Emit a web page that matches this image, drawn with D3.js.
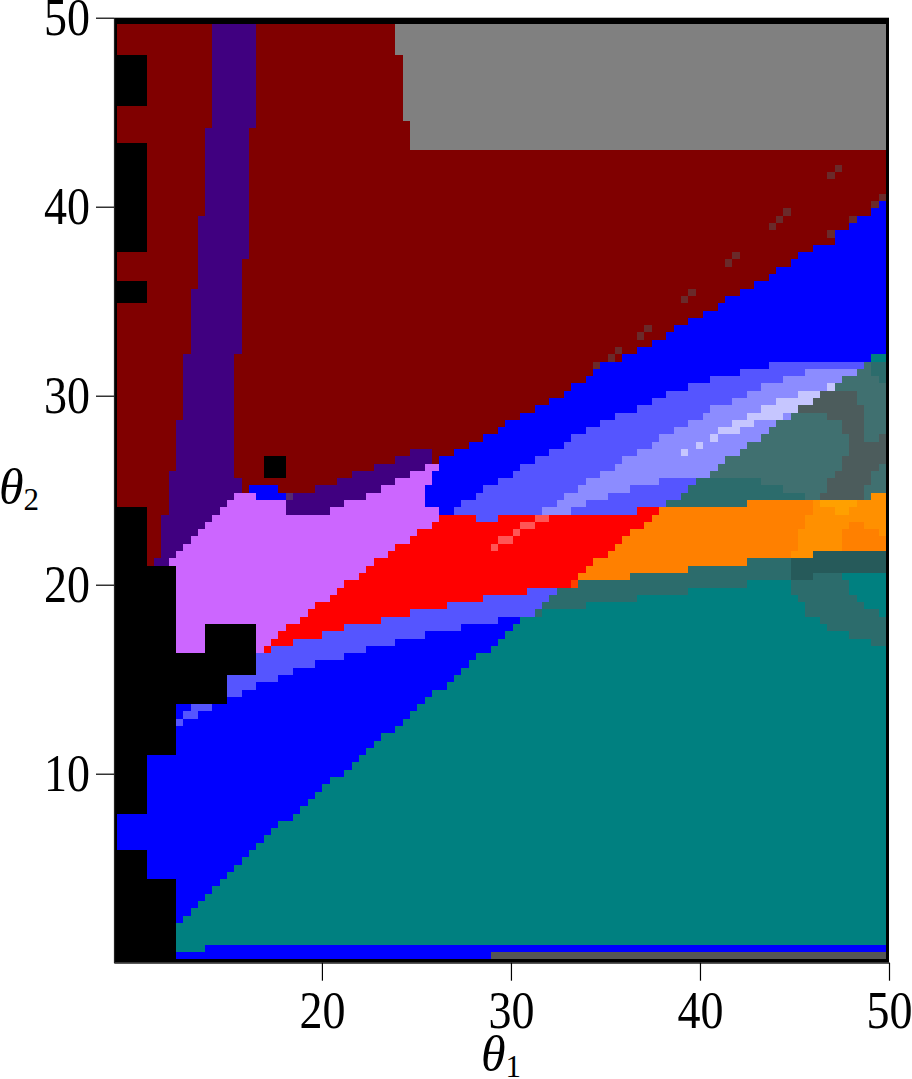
<!DOCTYPE html>
<html><head><meta charset="utf-8">
<script src="https://cdn.jsdelivr.net/npm/d3@7"></script>
<style>html,body{margin:0;padding:0;background:#fff}svg{display:block}
text{font-family:"Liberation Serif",serif;fill:#000}</style></head>
<body><div id="c"></div>
<script>
const categoryKeys = ["K","M","P","G","B","V","L","W","H","R","r","q","O","o","y","T","t","d","e","f","n","g","x"];
const categoryColors = ["#000000","#800000","#400080","#808080","#0000ff","#5555ff","#8c8cff","#c6c6ff","#cc66ff","#ff0000","#ff5555","#ff4000","#ff8000","#ff9000","#ffa000","#008080","#2c6c6c","#407070","#4c5c5c","#265a5a","#6a2a2a","#555555","#552a70"];
const xTicks = [20,30,40,50];
const yTicks = [10,20,30,40,50];
const xLabel = "θ", xSub = "1", yLabel = "θ", ySub = "2";
const theta1Range = [9,50], theta2Range = [0,50];
const theta1Start = 9.175, theta1Step = 0.38727, theta2Bottom = 0.18, theta2Step = 0.3857, theta2Top = 49.65;
// one entry per grid row (top to bottom): category letter + last column (exclusive)
const rowRuns = [
"M13 P19 M38 G105","M13 P19 M38 G105","M13 P19 M38 G105","M13 P19 M38 G105",
"K4 M13 P19 M39 G105","K4 M13 P19 M39 G105","K4 M13 P19 M39 G105","K4 M13 P19 M39 G105","K4 M13 P19 M39 G105","K4 M13 P19 M39 G105","K4 M13 P19 M39 G105",
"M13 P19 M39 G105","M13 P19 M39 G105","M13 P19 M40 G105",
"M12 P18 M40 G105","M12 P18 M40 G105","K4 M12 P18 M40 G105",
"K4 M12 P18 M105","K4 M12 P18 M105",
"K4 M12 P18 M98 n99 M105","K4 M12 P18 M97 n98 M105",
"K4 M12 P18 M105","K4 M12 P18 M105",
"K4 M12 P18 M104 n105","K4 M12 P18 M103 n104 B105",
"K4 M12 P18 M91 n92 M103 B105",
"K4 M11 P18 M90 n91 M100 n101 B105",
"K4 M11 P18 M89 n90 M100 B105",
"K4 M11 P18 M97 n98 B105",
"K4 M11 P18 M98 B105",
"K4 M11 P18 M95 B105",
"M11 P18 M84 n85 M93 B105",
"M11 P17 M83 n84 M92 B105",
"M11 P17 M90 B105",
"M11 P17 M89 B105",
"K4 M11 P17 M87 B105",
"K4 M10 P17 M78 n79 M85 B105",
"K4 M10 P17 M77 n78 M83 B105",
"M10 P17 M82 B105",
"M10 P17 M80 B105",
"M10 P17 M78 B105",
"M10 P17 M72 n73 M76 B105",
"M10 P17 M71 n72 M75 B105",
"M10 P17 M73 B105",
"M10 P17 M68 n69 M71 B105",
"M9 P16 M67 n68 M69 B103 T105",
"M9 P16 M65 n66 B89 V102 d103 t105",
"M9 P16 M65 B85 V94 L101 d103 t105",
"M9 P16 M64 B81 V91 L99 d104 t105",
"M9 P16 M62 B78 V88 L97 W98 d105",
"M9 P16 M61 B75 V86 L93 W96 e101 d105",
"M9 P16 M59 B73 V84 L90 W95 e101 d105",
"M9 P16 M57 B71 V81 L88 W93 e102 d105",
"M9 P16 M55 B68 V80 L86 W91 L92 d97 e102 d105",
"M8 P16 M53 B66 V78 L84 W87 L90 d99 e102 d105",
"M8 P16 M52 B64 V76 L82 W85 L89 d99 e102 d105",
"M8 P16 M50 B62 V74 L81 W82 L88 d100 e102 d104 e105",
"M8 P16 M48 B61 V73 L79 W80 L86 d100 e105",
"M8 P16 M40 P43 M46 B59 V71 L77 W78 L85 d100 e105",
"M8 P16 M20 K23 M38 P43 M44 B57 V69 L83 d99 e105",
"M8 P16 M20 K23 M35 P42 H44 B55 V68 L82 d99 e104 d105",
"M7 P16 M20 K23 M32 P40 H43 B54 V66 L81 d98 e103 d105",
"M7 P17 M30 P38 H43 B52 V64 L74 V79 t88 d97 e103 d105",
"M7 P17 M18 B22 M27 P36 H42 B50 V63 L70 V78 t91 d97 e102 d105",
"M7 P16 H19 B23 x24 P34 H42 B49 V61 L67 V77 t94 d96 e102 d103 o105",
"M7 P15 H23 P31 H42 B47 V60 L64 V75 t86 O95 o96 y101 o105",
"K4 M7 P14 H23 P29 H44 B46 V58 L62 V71 R74 O95 o98 y100 o105",
"K4 M6 P13 H44 R49 V52 R57 r59 R73 O94 o105",
"K4 M6 P12 H43 R55 r57 R72 O94 o100 O102 o105",
"K4 M6 P11 H41 R54 r55 R70 O93 o99 O104 o105",
"K4 M6 P10 H40 R52 r54 R69 O93 o99 O105",
"K4 M6 P9 H38 R51 r52 R68 O93 o99 O105",
"K4 M6 P8 H37 R67 O92 o95 f105",
"K4 M5 P7 H35 R65 O86 t92 f105",
"K8 H34 R64 O78 t92 f105",
"K8 H33 R63 O70 t92 f95 t99 T105",
"K8 H31 R62 q63 t86 T92 t100 T105",
"K8 H30 R56 V60 t78 T92 t100 T105",
"K8 H29 R50 V59 t71 T93 t101 T105",
"K8 H27 R45 V58 t64 T94 t102 T105",
"K8 H26 R40 V57 t58 T94 t104 T105",
"K8 H25 R36 V52 B55 T96 t105",
"K8 H12 K19 H23 R31 V47 B54 T97 t105",
"K8 H12 K19 H22 R28 V42 B53 T100 t105",
"K8 H12 K19 H21 R24 V38 B52 T103 t105",
"K8 H12 K19 H20 R21 V34 B51 T105",
"K19 V31 B49 T105",
"K19 V27 B48 T105",
"K19 V24 B47 T105",
"K15 V22 B46 T105",
"K15 V19 B45 T105",
"K15 V17 B43 T105",
"K15 B42 T105",
"K8 B10 V13 B41 T105",
"K8 B9 V11 B40 T105",
"K8 V9 B39 T105",
"K8 B38 T105","K8 B36 T105","K8 B35 T105","K8 B34 T105",
"K4 B33 T105","K4 B32 T105","K4 B31 T105","K4 B29 T105","K4 B28 T105","K4 B27 T105","K4 B26 T105","K4 B25 T105",
"B24 T105","B22 T105","B21 T105","B20 T105","B19 T105",
"K4 B18 T105","K4 B17 T105","K4 B16 T105","K4 B15 T105",
"K8 B14 T105","K8 B13 T105","K8 B12 T105","K8 B11 T105","K8 B10 T105","K8 B9 T105",
"K8 T105","K8 T105","K8 T105",
"K8 T12 B105",
"K8 B51 g105"
];

const W = 912, H = 1079;
const x = d3.scaleLinear().domain(theta1Range).range([114, 889]);
const y = d3.scaleLinear().domain(theta2Range).range([962.7, 17.7]);
const color = d3.scaleOrdinal().domain(categoryKeys).range(categoryColors);

const svg = d3.select("#c").append("svg").attr("width", W).attr("height", H);
svg.append("rect").attr("x", x(theta1Range[0])).attr("y", y(theta2Range[1]))
  .attr("width", x(theta1Range[1]) - x(theta1Range[0]))
  .attr("height", y(theta2Range[0]) - y(theta2Range[1])).attr("fill", "#000");

const cells = [];
rowRuns.forEach((row, r) => {
  let start = 0;
  row.split(" ").forEach(tok => {
    const end = +tok.slice(1);
    cells.push({cat: tok[0], r, c0: start, c1: end});
    start = end;
  });
});
const rowTop = r => r === 0 ? theta2Top : theta2Bottom + (rowRuns.length - r) * theta2Step;
svg.append("g").attr("shape-rendering", "crispEdges").selectAll("rect").data(cells).join("rect")
  .attr("x", d => x(theta1Start + d.c0 * theta1Step))
  .attr("width", d => x(theta1Start + d.c1 * theta1Step) - x(theta1Start + d.c0 * theta1Step))
  .attr("y", d => y(rowTop(d.r)))
  .attr("height", d => y(rowTop(d.r + 1)) - y(rowTop(d.r)))
  .attr("fill", d => color(d.cat));

const gx = svg.append("g").attr("transform", `translate(0,${y(0)})`)
  .call(d3.axisBottom(x).tickValues(xTicks).tickSizeInner(18).tickSizeOuter(0).tickPadding(10).tickFormat(d3.format("d")));
const gy = svg.append("g").attr("transform", `translate(${x(9)},0)`)
  .call(d3.axisLeft(y).tickValues(yTicks).tickSizeInner(18).tickSizeOuter(0).tickPadding(6).tickFormat(d3.format("d")));
[gx, gy].forEach(g => {
  g.selectAll("text").attr("font-size", 52).attr("font-family", '"Liberation Serif",serif').attr("fill", "#000")
    .attr("textLength", 46).attr("lengthAdjust", "spacingAndGlyphs");
  g.selectAll("line").attr("stroke", "#000").attr("stroke-width", 1.2);
  g.select(".domain").attr("stroke", "#222").attr("stroke-width", 1.2);
});

function mathLabel(px, py, sym, sub) {
  const t = svg.append("text").attr("x", px).attr("y", py).attr("font-size", 50);
  t.append("tspan").attr("font-style", "italic").text(sym);
  t.append("tspan").attr("font-size", 31).attr("dy", 6).text(sub);
}
mathLabel(481, 1071, xLabel, xSub);
mathLabel(-1, 504, yLabel, ySub);
</script></body></html>
